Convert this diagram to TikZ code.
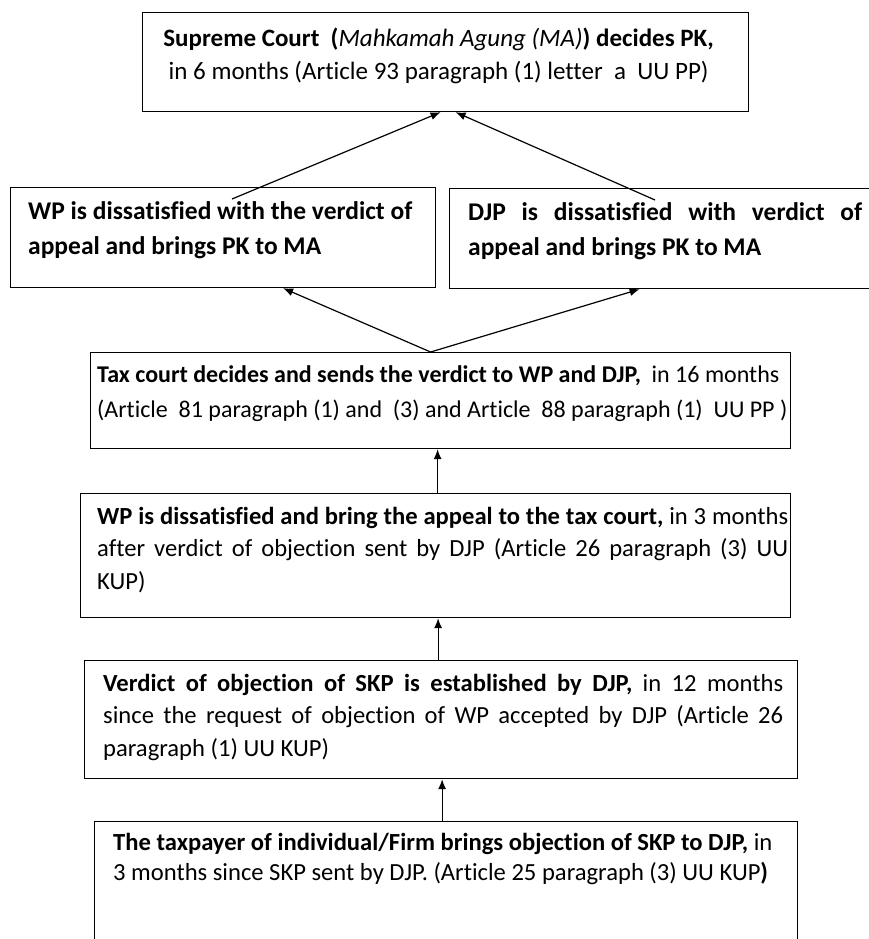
\documentclass[tikz,border=0pt]{standalone}
\usepackage{fontspec}
\setmainfont[Ligatures=NoCommon]{Carlito}
\usetikzlibrary{arrows.meta,calc}

\newcommand{\fullline}[1]{\makebox[\linewidth][s]{#1}}
\newcommand{\boxtext}[2]{\parbox[t]{#1}{\raggedright #2}}

\begin{document}
\begin{tikzpicture}[x=1pt,y=-1pt,>={Latex[length=10pt,width=8pt]},
  box/.style={draw,line width=1.2pt,inner sep=0pt,anchor=north west},
  txt/.style={anchor=north west,inner sep=0pt,font=\fontsize{25.5}{35}\selectfont},
  small/.style={font=\fontsize{24.6}{32.5}\selectfont}]
  % Ventana
  \useasboundingbox (0,0) rectangle (869,939);

  % Cajas
  \node[box,minimum width=606pt,minimum height=99pt] (ma) at (142,12) {};
  \node[box,minimum width=425pt,minimum height=100pt] (wpPK) at (10,187) {};
  \node[box,minimum width=430pt,minimum height=100pt] (djpPK) at (449,188) {};
  \node[box,minimum width=700pt,minimum height=96pt] (taxcourt) at (90,352) {};
  \node[box,minimum width=710pt,minimum height=124pt] (appeal) at (80,493) {};
  \node[box,minimum width=713pt,minimum height=118pt] (objection) at (84,660) {};
  \node[box,minimum width=703pt,minimum height=140pt] (taxpayer) at (94,821) {};

  % Textos
  \node[txt,font=\fontsize{25}{33}\selectfont,anchor=north] (ma-t) at ($(ma.north)+(-7,16)$)
    {\parbox[t]{600pt}{\centering
     \textbf{Supreme Court\ \ (}\textit{Mahkamah Agung (MA)}\textbf{) decides PK,}\\
     in 6 months (Article 93 paragraph (1) letter\ \ a\ \ UU PP)}};
  \node[txt] (wpPK-t) at ($(wpPK.north west)+(18,14)$)
    {\boxtext{400pt}{\textbf{WP is dissatisfied with the verdict of}\\
     \textbf{appeal and brings PK to MA}}};
  \node[txt] (djpPK-t) at ($(djpPK.north west)+(19,14)$)
    {\boxtext{394pt}{\fullline{\textbf{DJP is dissatisfied with verdict of}}\\
     \textbf{appeal and brings PK to MA}}};
  \node[txt,font=\fontsize{24}{35}\selectfont] (taxcourt-t)
    at ($(taxcourt.north west)+(7,13)$)
    {\boxtext{720pt}{\textbf{Tax court decides and sends the verdict to WP and DJP,}\ \ in 16 months\\
     (Article\ \ 81 paragraph (1) and\ \ (3) and Article\ \ 88 paragraph (1)\ \ UU PP )}};
  \node[txt,small] (appeal-t) at ($(appeal.north west)+(17,14)$)
    {\boxtext{691pt}{\fullline{\textbf{WP is dissatisfied and bring the appeal to the tax court,} in 3 months}\\
     \fullline{after verdict of objection sent by DJP (Article 26 paragraph (3) UU}\\
     KUP)}};
  \node[txt,small] (objection-t) at ($(objection.north west)+(19,14)$)
    {\boxtext{680pt}{\fullline{\textbf{Verdict of objection of SKP is established by DJP,} in 12 months}\\
     \fullline{since the request of objection of WP accepted by DJP (Article 26}\\
     paragraph (1) UU KUP)}};
  \node[txt,font=\fontsize{24.6}{30}\selectfont] (taxpayer-t)
    at ($(taxpayer.north west)+(19,12)$)
    {\boxtext{700pt}{\textbf{The taxpayer of individual/Firm brings objection of SKP to DJP,} in\\
     3 months since SKP sent by DJP. (Article 25 paragraph (3) UU KUP\textbf{)}}};

  % Flechas
  \draw[->,line width=1.2pt] ([shift={(222,12)}]wpPK.north west) -- ([xshift=-5pt]ma.south);
  \draw[->,line width=1.2pt] ([shift={(206,12)}]djpPK.north west) -- ([xshift=10pt]ma.south);
  \draw[->,line width=1.2pt] ([xshift=-10pt]taxcourt.north) -- ([xshift=60pt]wpPK.south);
  \draw[->,line width=1.2pt] ([xshift=-10pt]taxcourt.north) -- ([xshift=-25pt]djpPK.south);
  \draw[->,line width=1.2pt] ([xshift=2pt]appeal.north) -- ([xshift=2pt]appeal.north |- taxcourt.south);
  \draw[->,line width=1.2pt] ([xshift=-3pt]objection.north) -- ([xshift=-3pt]objection.north |- appeal.south);
  \draw[->,line width=1.2pt] ([xshift=-4pt]taxpayer.north) -- ([xshift=-4pt]taxpayer.north |- objection.south);
\end{tikzpicture}
\end{document}
